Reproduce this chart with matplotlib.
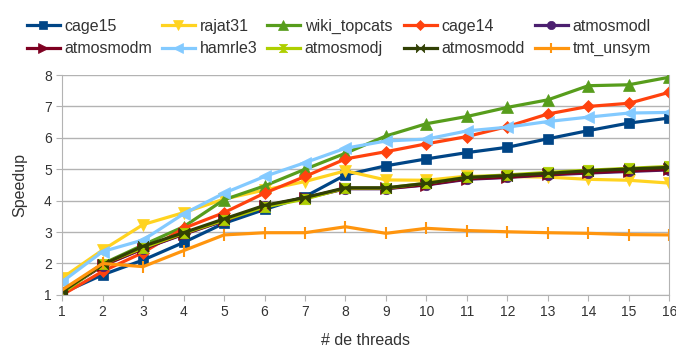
import numpy as np
import matplotlib.pyplot as plt
from matplotlib.path import Path

plt.rcParams['font.family'] = ['Liberation Sans', 'DejaVu Sans']

threads = list(range(1, 17))

cage15 = [1.06, 1.64, 2.11, 2.67, 3.28, 3.72, 4.13, 4.82, 5.11, 5.33, 5.53, 5.70, 5.97, 6.23, 6.47, 6.63]
rajat31 = [1.54, 2.43, 3.24, 3.62, 4.05, 4.34, 4.61, 4.95, 4.66, 4.65, 4.78, 4.77, 4.75, 4.68, 4.65, 4.56]
wiki_topcats = [1.10, 1.99, 2.59, 3.17, 4.03, 4.47, 5.00, 5.51, 6.06, 6.45, 6.68, 6.97, 7.21, 7.66, 7.69, 7.93]
cage14 = [1.00, 1.75, 2.35, 3.12, 3.62, 4.24, 4.77, 5.33, 5.56, 5.81, 6.04, 6.36, 6.76, 7.00, 7.10, 7.45]
atmosmodl = [1.10, 1.93, 2.47, 2.93, 3.36, 3.83, 4.08, 4.38, 4.38, 4.50, 4.68, 4.74, 4.82, 4.88, 4.93, 4.98]
atmosmodm = [1.12, 1.94, 2.48, 2.94, 3.37, 3.83, 4.09, 4.39, 4.39, 4.51, 4.70, 4.75, 4.84, 4.90, 4.95, 5.00]
hamrle3 = [1.42, 2.38, 2.75, 3.58, 4.24, 4.77, 5.21, 5.67, 5.90, 5.96, 6.22, 6.34, 6.52, 6.66, 6.79, 6.81]
atmosmodj = [1.05, 1.98, 2.50, 2.96, 3.38, 3.80, 4.05, 4.40, 4.40, 4.56, 4.75, 4.82, 4.90, 4.97, 5.03, 5.09]
atmosmodd = [1.10, 1.97, 2.55, 2.98, 3.42, 3.85, 4.10, 4.41, 4.41, 4.55, 4.74, 4.80, 4.87, 4.95, 5.01, 5.06]
tmt_unsym = [1.16, 2.00, 1.90, 2.41, 2.91, 2.98, 2.98, 3.17, 2.96, 3.12, 3.05, 3.01, 2.98, 2.96, 2.92, 2.91]

# custom bowtie markers
hourglass = Path([(-1, 1), (1, 1), (-1, -1), (1, -1), (-1, 1)],
                 [Path.MOVETO, Path.LINETO, Path.LINETO, Path.LINETO, Path.CLOSEPOLY])
bowtie = Path([(-1, -1), (-1, 1), (1, -1), (1, 1), (-1, -1)],
              [Path.MOVETO, Path.LINETO, Path.LINETO, Path.LINETO, Path.CLOSEPOLY])

series = [
    ("cage15", cage15, "#004586", "s", 7.5),
    ("rajat31", rajat31, "#ffd320", "v", 8.5),
    ("wiki_topcats", wiki_topcats, "#579d1c", "^", 8.5),
    ("cage14", cage14, "#ff420e", "D", 6.5),
    ("atmosmodl", atmosmodl, "#4b1f6f", "o", 7.5),
    ("atmosmodm", atmosmodm, "#7e0021", ">", 8.5),
    ("hamrle3", hamrle3, "#83caff", "<", 8.5),
    ("atmosmodj", atmosmodj, "#aecf00", hourglass, 7.5),
    ("atmosmodd", atmosmodd, "#314004", bowtie, 7.5),
    ("tmt_unsym", tmt_unsym, "#ff950e", "|", 9),
]

fig = plt.figure(figsize=(6.76, 3.49), dpi=100)
ax = fig.add_axes([0.092, 0.155, 0.898, 0.630])

lines = []
for name, vals, col, mk, ms in series:
    ln, = ax.plot(threads, vals, color=col, lw=2.3, marker=mk, ms=ms,
                  markeredgecolor=col, markeredgewidth=1.5 if mk == "|" else 0.5,
                  label=name)
    lines.append(ln)

ax.set_xlim(1, 16)
ax.set_ylim(1, 8)
ax.set_xticks(threads)
ax.set_yticks(range(1, 9))
ax.grid(axis='y', color='#b3b3b3', lw=1)
ax.set_axisbelow(True)
for s in ax.spines.values():
    s.set_color('#b3b3b3')
ax.spines['top'].set_visible(False)
ax.tick_params(colors='#b3b3b3', labelcolor='#333333', labelsize=10, length=4)
ax.set_xlabel("# de threads", fontsize=11.5, color='#333333', labelpad=10)
ax.set_ylabel("Speedup", fontsize=11.5, color='#333333', labelpad=12)

# legend: one small legend per column so the columns sit where they do in the original
col_x = [27, 162, 267, 404, 535]
for c, x in enumerate(col_x):
    idx = [c, c + 5]
    leg = fig.legend([lines[i] for i in idx], [series[i][0] for i in idx],
                     loc='upper left', bbox_to_anchor=(x / 676, 1 - 19 / 349),
                     frameon=False, fontsize=11.5, handlelength=2.05,
                     handletextpad=0.3, labelspacing=0.45, borderpad=0,
                     borderaxespad=0, labelcolor='#333333', markerscale=0.8)

fig.savefig("out.png", dpi=100)
